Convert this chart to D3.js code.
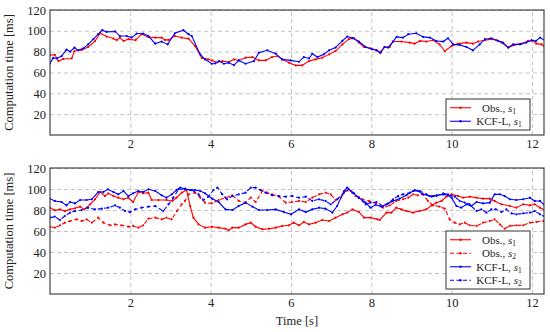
<!DOCTYPE html>
<html>
<head>
<meta charset="utf-8">
<script src="https://cdn.jsdelivr.net/npm/d3@7"></script>
<style>
  body { margin: 0; background: #fff; }
  text { font-family: "Liberation Serif", "DejaVu Serif", serif; fill: #222; }
</style>
</head>
<body>
<div id="chart"></div>
<script>
// values, [time s, computation time ms]
const topObs = [[0,76.8],[0.12,77],[0.21,71],[0.33,73],[0.54,73.5],[0.61,80.6],[0.79,81.6],[0.95,84.5],[1.12,90],[1.25,97.7],[1.41,94.5],[1.58,92.6],[1.66,91],[1.74,93.5],[1.83,90.3],[1.95,92],[2.13,91],[2.28,96.8],[2.45,94],[2.62,93.5],[2.78,93.5],[2.86,91.3],[2.95,91.3],[3.11,95],[3.28,93.5],[3.45,92.5],[3.61,85.5],[3.78,74],[3.94,72.6],[4.04,71.6],[4.16,69.6],[4.29,71],[4.45,70],[4.58,72.6],[4.7,71.6],[4.87,74.2],[5.04,74.8],[5.2,71.6],[5.37,71.6],[5.53,74.8],[5.66,75.8],[5.78,72.6],[5.95,69.4],[6.12,66.8],[6.28,66.8],[6.45,71],[6.61,72.6],[6.78,74.2],[6.95,77.4],[7.11,80.6],[7.28,87],[7.44,92],[7.57,93],[7.69,88.7],[7.82,84.5],[7.98,83.2],[8.13,81.3],[8.21,79],[8.33,84.5],[8.46,84.5],[8.54,89.7],[8.75,89.7],[8.96,88.7],[9.08,87.7],[9.21,90.3],[9.37,89.7],[9.54,91],[9.7,87],[9.83,80.6],[10.0,85.5],[10.16,87.7],[10.37,88.7],[10.53,87.7],[10.66,89.7],[10.83,91],[10.99,92],[11.12,91],[11.24,88.7],[11.41,83.9],[11.57,86.5],[11.74,87.7],[11.9,90.3],[12.03,90.3],[12.11,87.7],[12.24,87],[12.32,84.5]]

const topKcf = [[0,68.7],[0.08,74],[0.17,73.5],[0.29,75.8],[0.41,82],[0.5,80],[0.61,84],[0.7,81.3],[0.83,83.2],[0.95,87],[1.08,92],[1.2,96.8],[1.3,100.6],[1.41,99],[1.62,99.4],[1.74,95],[1.91,95],[2.03,93.5],[2.16,97.4],[2.32,97.4],[2.45,95],[2.62,87.7],[2.78,89.7],[2.93,87],[3.11,97.7],[3.32,100.6],[3.45,96.8],[3.53,95],[3.74,77.4],[3.86,72.6],[4.03,68.4],[4.11,68.7],[4.21,71],[4.33,68.4],[4.45,69.4],[4.58,67],[4.7,71.6],[4.87,68.4],[5.08,71],[5.2,79],[5.41,81.3],[5.62,78.1],[5.78,72.6],[5.99,71.6],[6.2,70.3],[6.32,74.8],[6.45,73.5],[6.53,78],[6.66,74.8],[6.82,77.4],[6.95,81.3],[7.11,83.9],[7.28,90.3],[7.4,94.5],[7.53,93],[7.69,89.7],[7.86,84.5],[8.02,82.3],[8.13,81.3],[8.23,79],[8.33,84.5],[8.42,83.9],[8.54,89.7],[8.63,94.2],[8.79,93.5],[8.92,96.8],[9.12,97.7],[9.29,94.2],[9.46,93.5],[9.62,90.3],[9.79,89.7],[9.91,92.9],[10.04,87],[10.2,86.5],[10.37,84.5],[10.53,81.3],[10.7,87],[10.83,92],[10.99,92.9],[11.16,90.3],[11.28,88.7],[11.41,83.9],[11.53,87],[11.7,87],[11.86,88.7],[11.99,91],[12.1,90.3],[12.2,93.5],[12.32,91]]

const botObs1 = [[0,82.2],[0.12,79.7],[0.25,80.6],[0.37,79],[0.5,80.6],[0.62,81.6],[0.75,83.2],[0.85,80.6],[1.0,85.4],[1.12,90.2],[1.25,97.1],[1.37,93.3],[1.45,95.9],[1.58,93.3],[1.7,91.7],[1.83,90.2],[1.95,91.7],[2.07,87.6],[2.2,97.1],[2.32,95.9],[2.45,96.5],[2.53,89.5],[2.7,89.5],[2.9,89.5],[3.05,88.6],[3.15,91.7],[3.28,96.5],[3.4,99],[3.49,83.8],[3.57,72.7],[3.7,66.3],[3.86,63.2],[4.03,64.1],[4.2,63.2],[4.37,62.2],[4.45,60.6],[4.54,63.2],[4.7,63.2],[4.87,66.3],[5.0,67.9],[5.12,64.1],[5.29,61.6],[5.45,62.2],[5.62,63.2],[5.78,64.8],[5.95,65.4],[6.07,67.9],[6.2,65.4],[6.32,68.6],[6.45,66.3],[6.61,67.9],[6.78,70.5],[6.95,69.5],[7.11,72.7],[7.28,75.9],[7.4,77.5],[7.53,80.6],[7.69,78.1],[7.82,72.7],[7.98,72.7],[8.15,71.1],[8.21,70.5],[8.38,77.5],[8.5,77.5],[8.62,82.2],[8.75,80.6],[8.87,79],[9.04,77.5],[9.2,79],[9.37,80.6],[9.5,84.4],[9.62,87],[9.75,88.6],[9.87,92.7],[10.0,94.9],[10.16,93.3],[10.29,91.7],[10.45,92.7],[10.62,91.7],[10.78,90.8],[10.95,90.8],[11.07,88.6],[11.24,85.4],[11.45,83.8],[11.61,82.2],[11.78,85.4],[11.95,84.4],[12.07,85.4],[12.2,82.2],[12.32,80]]

const botObs2 = [[0,64.1],[0.12,63.2],[0.25,65.4],[0.37,67.9],[0.5,69.5],[0.66,71.1],[0.79,69.5],[0.91,71.1],[1.04,67.9],[1.2,72.7],[1.33,67.9],[1.5,65.4],[1.62,66.3],[1.78,65.4],[1.95,64.1],[2.07,64.8],[2.2,63.2],[2.32,65.4],[2.45,71.7],[2.62,72.7],[2.78,71.1],[2.9,72.7],[3.03,71.1],[3.16,79],[3.28,85.4],[3.36,88.6],[3.45,94.9],[3.61,96.5],[3.74,91.7],[3.86,87],[4.03,86.3],[4.2,89.5],[4.37,91.7],[4.54,94],[4.7,88.6],[4.87,87],[5.0,91.7],[5.12,87.6],[5.29,98.1],[5.41,96.5],[5.53,94.9],[5.7,92.7],[5.87,87],[6.03,87.6],[6.2,88.6],[6.37,87.6],[6.53,91.7],[6.7,94.9],[6.86,96.5],[6.99,94.9],[7.11,89.5],[7.24,91.7],[7.36,98.1],[7.49,98.1],[7.61,93.3],[7.78,90.2],[7.94,88.6],[8.11,86.3],[8.29,82.2],[8.46,84.4],[8.62,88.6],[8.79,90.2],[8.92,91.7],[9.04,94.9],[9.16,94],[9.29,94.9],[9.41,88.6],[9.54,84.4],[9.7,83.2],[9.83,81.3],[9.95,71.1],[10.08,67.9],[10.2,66.3],[10.33,67.9],[10.45,65.4],[10.62,64.8],[10.78,67.9],[10.95,69.5],[11.07,71.1],[11.2,66.3],[11.32,62.2],[11.45,64.8],[11.61,65.4],[11.78,65.4],[11.95,67.9],[12.11,68.6],[12.28,69.5]]

const botKcf1 = [[0,90.8],[0.12,88.6],[0.29,87.6],[0.41,84.4],[0.5,87.6],[0.62,86.3],[0.75,89.5],[0.91,89.5],[1.04,90.2],[1.2,97.1],[1.33,97.1],[1.44,99.7],[1.58,97.1],[1.7,94.9],[1.83,98.1],[1.95,93.3],[2.07,95.9],[2.2,98.1],[2.32,97.1],[2.45,99.7],[2.62,98.1],[2.78,94],[2.9,91.7],[3.03,94.9],[3.15,99],[3.24,101.3],[3.36,100.3],[3.49,99],[3.61,99],[3.74,98.1],[3.86,95.9],[4.04,90.8],[4.2,87.6],[4.37,80.6],[4.54,80],[4.7,83.8],[4.87,87],[5.04,83.2],[5.2,80],[5.41,80],[5.62,80.6],[5.82,78],[6.0,75.9],[6.2,80.6],[6.37,78],[6.53,80.6],[6.7,82.2],[6.86,81.3],[7.03,77.5],[7.15,83.8],[7.32,98.1],[7.4,101.3],[7.53,96.5],[7.69,91.7],[7.86,87],[7.98,82.2],[8.11,85],[8.25,83.2],[8.38,85.4],[8.54,88.6],[8.7,90.8],[8.87,94],[9.04,98.1],[9.16,98.1],[9.29,94.9],[9.45,93.3],[9.62,94],[9.79,94.9],[9.91,94],[10.0,91.7],[10.12,83.8],[10.24,82.2],[10.37,85.4],[10.49,83.8],[10.62,87.6],[10.78,86.3],[10.95,87],[11.07,94.9],[11.2,94.9],[11.32,93.3],[11.45,90.2],[11.61,89.5],[11.78,90.2],[11.95,91.7],[12.07,88.6],[12.2,88.6],[12.32,84.4]]

const botKcf2 = [[0,72.7],[0.12,73.6],[0.25,70.5],[0.37,74.3],[0.5,77.5],[0.62,79],[0.79,80],[0.95,82.2],[1.12,80.6],[1.29,81.3],[1.45,82.2],[1.62,84.4],[1.74,82.2],[1.87,79],[1.99,78],[2.12,80.6],[2.28,82.2],[2.45,83.2],[2.62,83.8],[2.82,79],[2.95,85.4],[3.07,91.7],[3.2,99.7],[3.36,99.7],[3.53,99],[3.7,94.9],[3.82,89.5],[3.94,92.7],[4.07,99],[4.17,101.3],[4.29,94.9],[4.41,90.2],[4.54,93.3],[4.7,94.9],[4.87,96.5],[5.0,101.3],[5.12,101.3],[5.24,99],[5.37,96.5],[5.53,94],[5.7,93.3],[5.87,92.7],[6.03,93.3],[6.2,91.7],[6.37,92.7],[6.53,88.6],[6.7,90.2],[6.86,88.6],[6.99,85.4],[7.15,90.2],[7.32,96.5],[7.44,99.7],[7.57,95.9],[7.69,91.7],[7.86,85.4],[7.98,87],[8.13,87.6],[8.29,83.8],[8.42,86.3],[8.54,90.2],[8.67,93.3],[8.79,94.9],[8.96,96.5],[9.08,99],[9.21,98.1],[9.37,94.9],[9.5,92.7],[9.62,93.3],[9.79,95.9],[9.91,94.9],[10.08,92.7],[10.2,88.6],[10.33,87],[10.45,85.4],[10.62,79],[10.74,80.6],[10.87,77.5],[10.99,80.6],[11.1,80.6],[11.24,78.1],[11.36,80.6],[11.49,76.8],[11.61,75.9],[11.78,76.8],[11.95,77.5],[12.07,79],[12.2,75.9],[12.32,73.6]]

const xTicks = [2, 4, 6, 8, 10, 12]
const yTicks = [20, 40, 60, 80, 100, 120]
const yLabel = "Computation time [ms]"
const xLabel = "Time [s]"

let width = 550
let height = 332
let margin = {left: 50, right: 6}

let svg = d3.select('#chart')
            .append('svg')
            .attr('width', width)
            .attr('height', height)

svg.append('rect').attr('width', width).attr('height', height).attr('fill', '#fff')

let x = d3.scaleLinear()
          .domain([0, 12.3])
          .range([margin.left, width - margin.right])

// one panel = one axis box with grid, lines and legend
function drawPanel(id, top, bottom, series, showXLabel){
    let y = d3.scaleLinear().domain([0, 120]).range([bottom, top])
    let g = svg.append('g').attr('id', id)

    g.append('clipPath').attr('id', 'clip-' + id)
     .append('rect')
     .attr('x', x.range()[0]).attr('y', top)
     .attr('width', x.range()[1] - x.range()[0])
     .attr('height', bottom - top)

    // grid
    g.append('g')
     .attr('transform', 'translate(0,' + bottom + ')')
     .call(d3.axisBottom(x).tickValues(xTicks).tickSize(-(bottom - top)).tickFormat(''))
     .call(a => a.select('.domain').remove())
     .selectAll('line')
     .attr('stroke', '#c4c4c4').attr('stroke-dasharray', '4,3')

    g.append('g')
     .attr('transform', 'translate(' + x.range()[0] + ',0)')
     .call(d3.axisLeft(y).tickValues(yTicks).tickSize(-(x.range()[1] - x.range()[0])).tickFormat(''))
     .call(a => a.select('.domain').remove())
     .selectAll('line')
     .attr('stroke', '#c4c4c4').attr('stroke-dasharray', '4,3')

    // tick labels
    g.append('g')
     .attr('transform', 'translate(0,' + bottom + ')')
     .call(d3.axisBottom(x).tickValues(xTicks).tickSize(0).tickPadding(4))
     .call(a => a.select('.domain').remove())
     .selectAll('text')
     .attr('font-size', '12.5px')
     .attr('font-family', '"Liberation Serif", serif')
     .attr('fill', '#222')

    g.append('g')
     .attr('transform', 'translate(' + x.range()[0] + ',0)')
     .call(d3.axisLeft(y).tickValues(yTicks).tickSize(0).tickPadding(4))
     .call(a => a.select('.domain').remove())
     .selectAll('text')
     .attr('font-size', '12.5px')
     .attr('font-family', '"Liberation Serif", serif')
     .attr('fill', '#222')

    let line = d3.line().x(d => x(d[0])).y(d => y(d[1]))

    let plot = g.append('g').attr('clip-path', 'url(#clip-' + id + ')')

    series.forEach(s => {
        plot.append('path')
            .datum(s.data)
            .attr('fill', 'none')
            .attr('stroke', s.color)
            .attr('stroke-width', 1.1)
            .attr('stroke-dasharray', s.dashed ? '4,2.5' : null)
            .attr('d', line)
        plot.selectAll(null)
            .data(s.data)
            .enter().append('circle')
            .attr('cx', d => x(d[0]))
            .attr('cy', d => y(d[1]))
            .attr('r', 1.1)
            .attr('fill', s.color)
    })

    // frame
    g.append('rect')
     .attr('x', x.range()[0]).attr('y', top)
     .attr('width', x.range()[1] - x.range()[0])
     .attr('height', bottom - top)
     .attr('fill', 'none')
     .attr('stroke', '#333')
     .attr('stroke-width', 1.1)

    // y label
    g.append('text')
     .attr('transform', 'translate(13,' + (top + bottom) / 2 + ') rotate(-90)')
     .attr('text-anchor', 'middle')
     .attr('font-size', '12.5px')
     .text(yLabel)

    if(showXLabel){
        g.append('text')
         .attr('x', (x.range()[0] + x.range()[1]) / 2)
         .attr('y', bottom + 31)
         .attr('text-anchor', 'middle')
         .attr('font-size', '12.5px')
         .text(xLabel)
    }

    // legend, bottom right corner
    let rowH = 13.5
    let lx = 446, lw = 84
    let lh = series.length * rowH + 4
    let ly = bottom - 5 - lh
    let leg = g.append('g')
    leg.append('rect')
       .attr('x', lx).attr('y', ly)
       .attr('width', lw).attr('height', lh)
       .attr('fill', '#fff').attr('stroke', '#333').attr('stroke-width', 1)

    series.forEach((s, i) => {
        let cy = ly + 2 + rowH * (i + 0.5)
        leg.append('line')
           .attr('x1', lx + 4).attr('x2', lx + 25)
           .attr('y1', cy).attr('y2', cy)
           .attr('stroke', s.color).attr('stroke-width', 1.1)
           .attr('stroke-dasharray', s.dashed ? '4,2.5' : null)
        leg.append('circle')
           .attr('cx', lx + 14.5).attr('cy', cy).attr('r', 1.2).attr('fill', s.color)
        let t = leg.append('text')
           .attr('x', lx + 53).attr('y', cy + 3.8)
           .attr('text-anchor', 'middle')
           .attr('font-size', '11px')
        t.append('tspan').text(s.name + ', ')
        t.append('tspan').attr('font-style', 'italic').text('s')
        t.append('tspan').attr('font-size', '7.5px').attr('dy', 2).text(s.sub)
    })
}

drawPanel('top', 10, 135, [
    {name: 'Obs.', sub: '1', color: '#ff0000', dashed: false, data: topObs},
    {name: 'KCF-L', sub: '1', color: '#0000ff', dashed: false, data: topKcf}
], false)

drawPanel('bottom', 168, 294, [
    {name: 'Obs.', sub: '1', color: '#ff0000', dashed: false, data: botObs1},
    {name: 'Obs.', sub: '2', color: '#ff0000', dashed: true, data: botObs2},
    {name: 'KCF-L', sub: '1', color: '#0000ff', dashed: false, data: botKcf1},
    {name: 'KCF-L', sub: '2', color: '#0000ff', dashed: true, data: botKcf2}
], true)
</script>
</body>
</html>
